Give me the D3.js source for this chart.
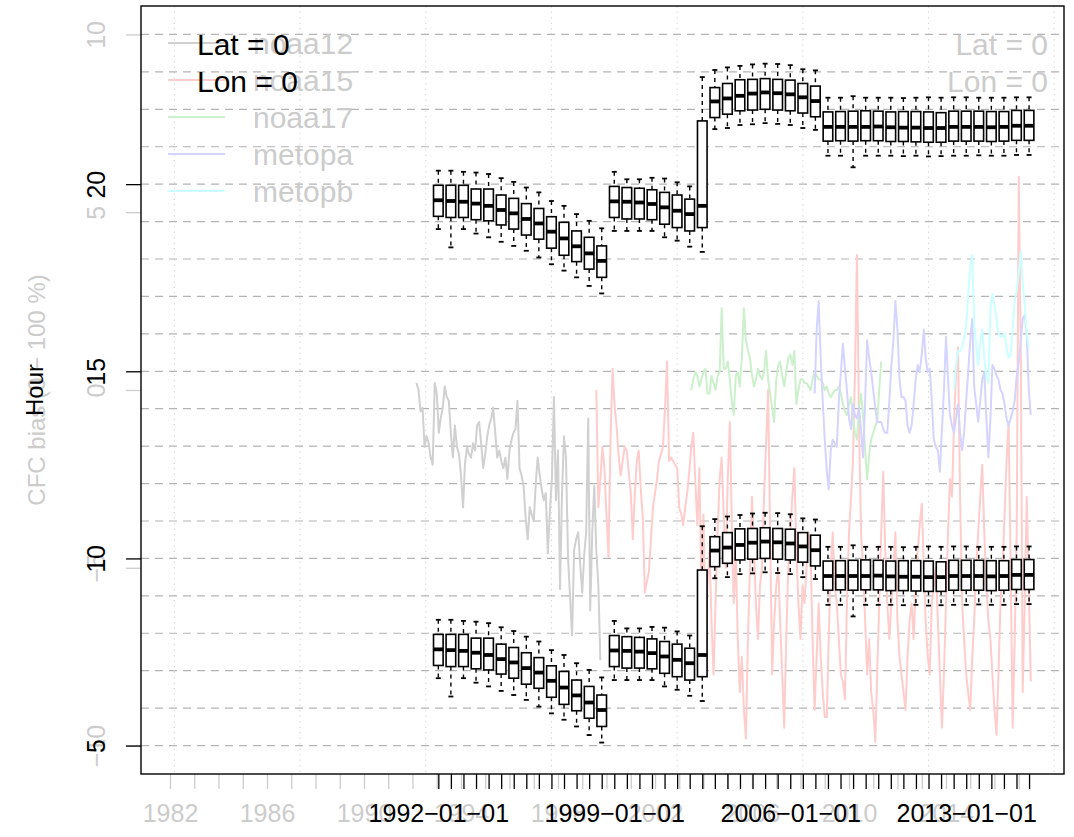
<!DOCTYPE html>
<html><head><meta charset="utf-8">
<script src="https://cdn.jsdelivr.net/npm/d3@7"></script>
<style>
body{margin:0;background:#fff}
text{font-family:"Liberation Sans",Arial,Helvetica,sans-serif}
</style></head>
<body><svg id="chart" width="1074" height="837"></svg>
<script>
// ---------- data ----------
const boxDates = ["1992-01-01","1992-07-01","1993-01-01","1993-07-01","1994-01-01","1994-07-01","1995-01-01","1995-07-01",
"1996-01-01","1996-07-01","1997-01-01","1997-07-01","1998-01-01","1998-07-01","1999-01-01","1999-07-01",
"2000-01-01","2000-07-01","2001-01-01","2001-07-01","2002-01-01","2002-07-01","2003-01-01","2003-07-01",
"2004-01-01","2004-07-01","2005-01-01","2005-07-01","2006-01-01","2006-07-01","2007-01-01","2007-07-01",
"2008-01-01","2008-07-01","2009-01-01","2009-07-01","2010-01-01","2010-07-01","2011-01-01","2011-07-01",
"2012-01-01","2012-07-01","2013-01-01","2013-07-01","2014-01-01","2014-07-01","2015-01-01","2015-07-01"];

// afternoon (upper) crossing hours
const pmHigh = [20.36,20.36,20.33,20.31,20.27,20.16,20.06,19.91,19.78,19.55,19.42,19.20,19.02,18.82,
20.33,20.13,20.13,20.17,20.15,20.05,19.94,22.86,
23.05,23.12,23.16,23.20,23.22,23.21,23.18,23.07,23.04,
22.31,22.31,22.35,22.31,22.31,22.31,22.30,22.31,22.32,22.31,22.32,22.32,22.31,22.31,22.31,22.32,22.32];
const pmQ3 = [19.97,19.97,19.97,19.87,19.87,19.71,19.62,19.48,19.35,19.13,18.98,18.75,18.58,18.35,
19.94,19.91,19.89,19.85,19.78,19.71,19.60,21.69,
22.58,22.69,22.79,22.80,22.82,22.80,22.78,22.69,22.62,
21.93,21.94,21.95,21.96,21.95,21.93,21.94,21.94,21.93,21.91,21.95,21.95,21.95,21.94,21.94,21.97,21.97];
const pmMed = [19.57,19.55,19.53,19.48,19.42,19.31,19.22,19.07,18.95,18.73,18.55,18.34,18.15,17.95,
19.54,19.53,19.51,19.47,19.38,19.29,19.20,19.42,
22.21,22.29,22.36,22.42,22.45,22.43,22.40,22.32,22.22,
21.53,21.53,21.53,21.53,21.54,21.52,21.51,21.51,21.50,21.50,21.53,21.53,21.53,21.52,21.53,21.56,21.56];
const pmQ1 = [19.14,19.11,19.11,19.05,19.02,18.91,18.80,18.64,18.53,18.29,18.10,17.93,17.73,17.51,
19.11,19.07,19.07,19.05,18.93,18.84,18.75,18.84,
21.78,21.87,21.96,21.98,22.00,21.98,21.96,21.90,21.80,
21.15,21.16,21.15,21.16,21.16,21.14,21.14,21.13,21.12,21.12,21.15,21.15,21.15,21.14,21.15,21.17,21.17];
const pmLow = [18.80,18.31,18.80,18.68,18.58,18.46,18.35,18.22,18.04,17.86,17.69,17.51,17.28,17.08,
18.75,18.75,18.75,18.75,18.58,18.49,18.33,18.19,
21.47,21.50,21.58,21.60,21.63,21.61,21.58,21.50,21.45,
20.76,20.76,20.45,20.76,20.76,20.76,20.75,20.76,20.74,20.75,20.76,20.76,20.77,20.76,20.76,20.78,20.78];

// morning (lower) crossing hours
const amHigh = [8.36,8.36,8.33,8.31,8.27,8.16,8.06,7.91,7.78,7.55,7.42,7.20,7.02,6.82,
8.33,8.13,8.13,8.17,8.15,8.05,7.94,10.86,
11.05,11.12,11.16,11.20,11.22,11.21,11.18,11.07,11.04,
10.31,10.31,10.35,10.31,10.31,10.31,10.30,10.31,10.32,10.31,10.32,10.32,10.31,10.31,10.31,10.32,10.32];
const amQ3 = [7.97,7.97,7.97,7.87,7.87,7.71,7.62,7.48,7.35,7.13,6.98,6.75,6.58,6.35,
7.94,7.91,7.89,7.85,7.78,7.71,7.60,9.69,
10.58,10.69,10.79,10.80,10.82,10.80,10.78,10.69,10.62,
9.93,9.94,9.95,9.96,9.95,9.93,9.94,9.94,9.93,9.91,9.95,9.95,9.95,9.94,9.94,9.97,9.97];
const amMed = [7.57,7.55,7.53,7.48,7.42,7.31,7.22,7.07,6.95,6.73,6.55,6.34,6.15,5.95,
7.54,7.53,7.51,7.47,7.38,7.29,7.20,7.42,
10.21,10.29,10.36,10.42,10.45,10.43,10.40,10.32,10.22,
9.53,9.53,9.53,9.53,9.54,9.52,9.51,9.51,9.50,9.50,9.53,9.53,9.53,9.52,9.53,9.56,9.56];
const amQ1 = [7.14,7.11,7.11,7.05,7.02,6.91,6.80,6.64,6.53,6.29,6.10,5.93,5.73,5.51,
7.11,7.07,7.07,7.05,6.93,6.84,6.75,6.84,
9.78,9.87,9.96,9.98,10.00,9.98,9.96,9.90,9.80,
9.15,9.16,9.15,9.16,9.16,9.14,9.14,9.13,9.12,9.12,9.15,9.15,9.15,9.14,9.15,9.17,9.17];
const amLow = [6.80,6.31,6.80,6.68,6.58,6.46,6.35,6.22,6.04,5.86,5.69,5.51,5.28,5.08,
6.75,6.75,6.75,6.75,6.58,6.49,6.33,6.19,
9.47,9.50,9.58,9.60,9.63,9.61,9.58,9.50,9.45,
8.76,8.76,8.45,8.76,8.76,8.76,8.75,8.76,8.74,8.75,8.76,8.76,8.77,8.76,8.76,8.78,8.78];

// monthly CFC bias series (%)
const seriesNames = ["noaa12","noaa15","noaa17","metopa","metopb"];
const seriesStart = ["1992-03-01","1999-08-01","2003-07-01","2008-08-01","2014-05-01"];
const noaa12 = [0.2,0.0,-0.6,-0.5,-1.6,-1.3,-1.5,-1.9,-2.1,0.2,-0.1,-1.2,-0.8,-0.5,0.1,-0.2,-0.3,-1.2,-1.9,-1.0,
-1.6,-1.8,-2.4,-3.3,-2.1,-1.6,-1.8,-1.9,-1.5,-1.7,-1.0,-0.9,-1.5,-2.2,-1.8,-1.3,-1.0,-0.8,-0.5,-1.2,
-1.9,-1.7,-2.0,-2.2,-1.9,-2.5,-1.7,-1.4,-1.2,-1.1,-0.3,-2.2,-2.4,-2.7,-3.6,-4.2,-3.3,-3.5,-3.7,-2.6,
-1.9,-2.4,-2.8,-3.1,-2.9,-4.6,-3.4,-2.5,-0.2,-3.1,-1.7,-5.6,-3.0,-1.3,-1.9,-4.7,-5.8,-6.9,-4.5,-4.2,
-4.0,-4.9,-5.7,-4.6,-4.0,-0.8,-6.2,-4.0,-2.7,-4.5,-5.5,-7.6];
const noaa15 = [0.0,-3.3,-2.5,-1.6,-2.2,-3.5,-4.7,-1.5,0.6,-0.4,
-1.0,-1.8,-2.4,-2.0,-1.6,-1.7,-2.3,-2.9,-4.2,-3.0,
-2.0,-1.7,-2.8,-3.6,-5.7,-5.4,-5.1,-4.2,-3.3,-2.9,
-2.5,-2.0,-1.8,-1.6,-0.5,0.8,-2.0,-1.9,-2.0,-2.1,
-2.2,-3.3,-3.5,-3.8,-3.3,-2.9,-2.3,-1.6,-1.2,-2.6,
-3.8,-2.2,-5.7,-3.5,-7.0,-5.5,-4.5,-6.5,-8.0,-6.0,
-4.0,-2.5,-1.9,-3.5,-5.0,-2.5,-0.9,-3.5,-6.0,-4.5,
-7.0,-8.5,-7.5,-9.0,-9.8,-7.0,-5.0,-3.0,-4.5,-6.0,
-7.0,-5.5,-5.0,-3.0,-1.5,0.0,-4.0,-8.0,-6.5,-5.5,
-5.0,-6.5,-8.0,-9.5,-7.0,-5.0,-4.0,-3.0,-2.2,-4.5,
-6.0,-7.0,-5.5,-6.0,-5.0,-4.0,-4.5,-7.0,-9.0,-7.5,
-6.0,-7.5,-8.5,-9.2,-9.2,-7.0,-5.0,-4.0,-5.5,-6.0,
-7.0,-8.0,-8.2,-8.7,-6.0,-4.0,-3.0,-2.0,0.5,3.8,
-1.0,-4.0,-5.0,-6.5,-8.0,-7.0,-8.5,-9.0,-9.9,-8.0,
-6.0,-4.0,-2.3,-4.5,-6.0,-7.0,-6.0,-5.0,-4.0,-6.5,
-7.5,-8.0,-8.5,-9.0,-7.5,-6.5,-6.0,-7.0,-5.5,-4.5,
-3.8,-3.2,-5.0,-6.5,-7.5,-8.0,-6.0,-5.5,-5.0,-6.5,
-8.0,-9.5,-8.0,-6.0,-4.0,-2.5,-3.0,-1.0,0.5,1.2,
-3.0,-6.0,-7.0,-8.0,-8.5,-9.0,-7.5,-6.5,-5.0,-4.0,
-3.0,-2.1,-4.0,-5.5,-6.5,-7.0,-8.0,-9.0,-9.7,-8.0,
-6.0,-5.0,-3.5,-2.0,-0.9,-5.0,-9.5,-7.0,-4.0,6.0,
1.0,-8.5,-6.0,-3.0,-5.5,-8.2];
const noaa17 = [0.0,0.3,0.5,0.4,0.1,0.3,0.5,0.6,-0.1,-0.1,0.4,0.2,0.0,0.4,0.5,2.3,0.6,0.6,0.8,0.3,
-0.3,-0.7,0.4,0.5,0.1,0.9,2.3,1.4,1.1,0.9,0.4,0.1,0.3,0.6,0.4,0.3,0.5,1.1,0.3,-0.1,
-0.5,-0.9,0.3,0.7,0.8,0.4,0.1,0.5,0.9,1.0,0.7,1.1,-0.4,0.0,0.3,0.3,0.2,0.2,0.1,0.0,
0.3,0.5,0.4,0.3,0.3,0.2,0.0,0.1,-0.1,-0.2,-0.1,0.0,0.0,0.1,-0.1,-0.4,-0.6,-0.7,-0.4,-0.2,
-0.8,-1.2,-1.4,-0.5,-0.1,-0.7,-1.7,-2.5,-1.8,-1.4,-1.2,-1.0,-0.9,0.0,0.8];
const metopa = [-0.1,1.7,2.5,0.9,-0.3,-1.4,-2.3,-2.8,-1.7,-1.4,-1.5,-1.6,-0.3,0.5,1.3,0.6,0.0,-0.8,-1.1,-0.4,
-0.7,-0.8,-0.5,-1.1,-1.9,-0.3,1.4,0.9,0.5,0.0,-0.5,-0.9,-0.9,-0.9,-1.1,-1.2,-1.2,-0.3,0.7,1.4,
2.5,1.7,0.3,-0.2,-0.2,-0.3,-1.0,-1.2,-1.0,-0.4,0.3,0.7,0.5,1.0,1.7,0.9,0.5,0.6,-0.3,-1.4,
-1.6,-1.7,-2.3,-1.1,0.0,1.5,0.3,-0.7,-1.0,-1.2,-0.8,-0.4,-1.2,-1.7,-1.2,-0.3,0.5,1.4,2.0,0.1,
-0.4,-0.9,-0.3,0.3,0.5,-0.8,-1.9,-0.8,0.7,0.6,0.4,0.3,0.0,-0.1,-0.4,-0.8,-1.0,-0.8,-0.6,-0.3,
0.4,0.8,1.4,2.0,2.1,1.6,0.0,-0.7];
const metopb = [0.0,0.7,1.1,1.1,1.2,1.5,1.8,2.7,3.5,3.8,1.9,1.2,0.7,1.4,1.7,0.9,0.4,0.2,2.3,2.7,
2.4,2.0,1.6,1.5,1.5,1.6,1.2,0.9,1.0,1.7,2.5,2.8,3.3,3.9,3.0,2.4,1.6,1.2];
const seriesValues = [noaa12, noaa15, noaa17, metopa, metopb];
const seriesColors = ["#d0d0d0","#ffcccc","#ccf0cc","#d4d4ff","#ccffff"];

const hourTicks = [5,10,15,20];
const cfcTicks = [-10,-5,0,5,10];
const yearTickLabels = [1982,1986,1990,1994,1998,2002,2006,2010,2014];
const dateTickLabels = ["1992-01-01","1999-01-01","2006-01-01","2013-01-01"];
const locationLabels = ["Lat = 0","Lon = 0"];

// ---------- layout ----------
const L = 141, R = 1064, T = 6, B = 774;
const svg = d3.select("#chart");
const parse = d3.timeParse("%Y-%m-%d");
const minus = s => String(s).replace(/-/g, "\u2212");

const xIdx = d3.scaleLinear().domain([-22.655, 50.78]).range([L, R]);
const xTime = d3.scaleTime().domain([parse("1982-01-01"), parse("2014-01-01")]).range([170, 946]);
const yHour = d3.scaleLinear().domain([4.24, 24.76]).range([B, T]);
const yCfc = d3.scaleLinear().domain([-10.8, 10.8]).range([B, T]);

const GREY_TXT = "#cccccc";

// ---------- grid ----------
const grid = svg.append("g");
grid.selectAll("line.v").data(d3.range(-20, 51, 10)).join("line")
  .attr("x1", d => xIdx(d)).attr("x2", d => xIdx(d)).attr("y1", T).attr("y2", B)
  .attr("stroke", "#d8d8d8").attr("stroke-width", 1).attr("stroke-dasharray", "1.5,4");
grid.selectAll("line.h").data(d3.range(5, 25)).join("line")
  .attr("x1", L).attr("x2", R).attr("y1", d => yHour(d)).attr("y2", d => yHour(d))
  .attr("stroke", "#b4b4b4").attr("stroke-width", 1.2).attr("stroke-dasharray", "8,6");

// ---------- CFC bias layer (faded) ----------
const line = d3.line().x(d => xTime(d.date)).y(d => yCfc(d.v));
seriesValues.forEach((vals, k) => {
  const start = parse(seriesStart[k]);
  const pts = vals.map((v, i) => ({date: d3.timeMonth.offset(start, i), v}));
  svg.append("path").datum(pts).attr("d", line).attr("fill", "none")
    .attr("stroke", seriesColors[k]).attr("stroke-width", 2).attr("stroke-linejoin", "round");
});

// grey y axis
const gAxCfc = svg.append("g").attr("transform", `translate(${L},0)`)
  .call(d3.axisLeft(yCfc).tickValues(cfcTicks).tickSize(15).tickFormat(d => minus(d)));
gAxCfc.select(".domain").remove();
gAxCfc.selectAll(".tick line").attr("stroke", GREY_TXT).attr("stroke-width", 1.3);
gAxCfc.selectAll(".tick text").attr("x", null).attr("dy", null).attr("fill", GREY_TXT)
  .attr("font-size", 25).attr("text-anchor", "middle").attr("transform", "translate(-36,0) rotate(-90)");

// grey x axis
const years = d3.timeYear.range(parse("1982-01-01"), parse("2018-01-01"));
const gAxYear = svg.append("g").attr("transform", `translate(0,${B})`)
  .call(d3.axisBottom(xTime).tickValues(years).tickSize(15)
    .tickFormat(d => yearTickLabels.includes(d.getFullYear()) ? d.getFullYear() : ""));
gAxYear.select(".domain").remove();
gAxYear.selectAll(".tick line").attr("stroke", GREY_TXT).attr("stroke-width", 1.3);
gAxYear.selectAll(".tick text").attr("y", 48).attr("dy", null).attr("fill", GREY_TXT).attr("font-size", 25);

// grey titles and legend
svg.append("text").attr("transform", "translate(45,390) rotate(-90)").attr("text-anchor", "middle")
  .attr("font-size", 24).attr("fill", GREY_TXT).text("CFC bias (0 \u2212 100 %)");
const leg = svg.append("g");
seriesNames.forEach((n, k) => {
  const yy = 43 + k * 37;
  leg.append("line").attr("x1", 168).attr("x2", 225).attr("y1", yy).attr("y2", yy)
    .attr("stroke", seriesColors[k]).attr("stroke-width", 2);
  leg.append("text").attr("x", 253).attr("y", yy + 11).attr("font-size", 30).attr("fill", GREY_TXT).text(n);
});
locationLabels.forEach((t, k) => {
  svg.append("text").attr("x", 1048).attr("y", 55 + k * 37).attr("text-anchor", "end")
    .attr("font-size", 30).attr("fill", GREY_TXT).text(t);
});

// ---------- Hour boxplot layer ----------
function drawBoxes(lo, q1, med, q3, hi) {
  const data = boxDates.map((d, i) => ({i: i + 1, lo: lo[i], q1: q1[i], med: med[i], q3: q3[i], hi: hi[i]}));
  const g = svg.append("g");
  const hw = 4.8, sw = 2.5;
  g.selectAll("line.wu").data(data).join("line")
    .attr("x1", d => xIdx(d.i)).attr("x2", d => xIdx(d.i)).attr("y1", d => yHour(d.hi)).attr("y2", d => yHour(d.q3))
    .attr("stroke", "#000").attr("stroke-width", 1.4).attr("stroke-dasharray", "4,4");
  g.selectAll("line.wl").data(data).join("line")
    .attr("x1", d => xIdx(d.i)).attr("x2", d => xIdx(d.i)).attr("y1", d => yHour(d.q1)).attr("y2", d => yHour(d.lo))
    .attr("stroke", "#000").attr("stroke-width", 1.4).attr("stroke-dasharray", "4,4");
  g.selectAll("line.su").data(data).join("line")
    .attr("x1", d => xIdx(d.i) - sw).attr("x2", d => xIdx(d.i) + sw).attr("y1", d => yHour(d.hi)).attr("y2", d => yHour(d.hi))
    .attr("stroke", "#000").attr("stroke-width", 1.8);
  g.selectAll("line.sl").data(data).join("line")
    .attr("x1", d => xIdx(d.i) - sw).attr("x2", d => xIdx(d.i) + sw).attr("y1", d => yHour(d.lo)).attr("y2", d => yHour(d.lo))
    .attr("stroke", "#000").attr("stroke-width", 1.8);
  g.selectAll("rect").data(data).join("rect")
    .attr("x", d => xIdx(d.i) - hw).attr("width", hw * 2)
    .attr("y", d => yHour(d.q3)).attr("height", d => yHour(d.q1) - yHour(d.q3))
    .attr("fill", "#fff").attr("stroke", "#000").attr("stroke-width", 1.6);
  g.selectAll("line.md").data(data).join("line")
    .attr("x1", d => xIdx(d.i) - hw).attr("x2", d => xIdx(d.i) + hw).attr("y1", d => yHour(d.med)).attr("y2", d => yHour(d.med))
    .attr("stroke", "#000").attr("stroke-width", 3.8);
}
drawBoxes(pmLow, pmQ1, pmMed, pmQ3, pmHigh);
drawBoxes(amLow, amQ1, amMed, amQ3, amHigh);

// black y axis
const gAxH = svg.append("g").attr("transform", `translate(${L},0)`)
  .call(d3.axisLeft(yHour).tickValues(hourTicks).tickSize(15));
gAxH.select(".domain").remove();
gAxH.selectAll(".tick line").attr("stroke", "#000").attr("stroke-width", 1.3);
gAxH.selectAll(".tick text").attr("x", null).attr("dy", null).attr("fill", "#000")
  .attr("font-size", 25).attr("text-anchor", "middle").attr("transform", "translate(-36,0) rotate(-90)");

// black x axis (one tick per box)
const gAxD = svg.append("g").attr("transform", `translate(0,${B})`)
  .call(d3.axisBottom(xIdx).tickValues(d3.range(1, boxDates.length + 1)).tickSize(15)
    .tickFormat(i => dateTickLabels.includes(boxDates[i - 1]) ? minus(boxDates[i - 1]) : ""));
gAxD.select(".domain").remove();
gAxD.selectAll(".tick line").attr("stroke", "#000").attr("stroke-width", 1.3);
gAxD.selectAll(".tick text").attr("y", 48).attr("dy", null).attr("fill", "#000").attr("font-size", 25);

svg.append("text").attr("transform", "translate(43,390) rotate(-90)").attr("text-anchor", "middle")
  .attr("font-size", 24).attr("fill", "#000").text("Hour");
locationLabels.forEach((t, k) => {
  svg.append("text").attr("x", 197).attr("y", 55 + k * 37).attr("font-size", 30).attr("fill", "#000").text(t);
});

// frame
svg.append("rect").attr("x", L).attr("y", T).attr("width", R - L).attr("height", B - T)
  .attr("fill", "none").attr("stroke", "#000").attr("stroke-width", 1.4);
</script></body></html>
